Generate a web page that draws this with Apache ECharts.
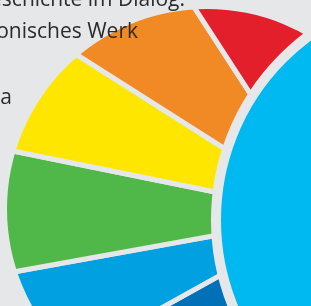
<!DOCTYPE html>
<html>
<head>
<meta charset="UTF-8" />
<script type="text/javascript" src="https://cdn.jsdelivr.net/npm/echarts@6/dist/echarts.min.js"></script>
<title>Anteile</title>
<style>
	html, body { margin: 0; padding: 0; background: #e6e7e9; }
	#main { width: 311px; height: 306px; }
</style>
</head>
<body>
	<div id="main"></div>
<script type="text/javascript">
	// Sektoren im Uhrzeigersinn (unten links beginnend)
	var sectorNames = ['Bereich 6', 'Bereich 5', 'Bereich 4', 'Bereich 3', 'Bereich 2', 'Bereich 1']
	var sectorValues = [20, 18.8, 21.7, 21, 24.6, 28]
	var labelLines = ['Geschichte im Dialog.', 'Diakonisches Werk', 'a']

	var palette = ['#0071b9', '#00a0e1', '#50b848', '#ffe600', '#f18a24', '#e31f2b']
	var bg = '#e6e7e9'

	var myChart = echarts.init(document.getElementById('main'))

	var pieData = []
	for (var i in sectorValues) {
		pieData.push({
			name : sectorNames[i],
			value : sectorValues[i],
			itemStyle : { color : palette[i] }
		})
	}

	// Beschriftungen (links angeschnitten)
	var labelPos = [[185, 0], [138, 32], [12, 98]]
	var texts = []
	for (var j in labelLines) {
		texts.push({
			type : 'text',
			z : 120,
			style : {
				text : labelLines[j],
				x : labelPos[j][0],
				y : labelPos[j][1],
				align : 'right',
				verticalAlign : 'middle',
				fill : '#2b2b2b',
				font : '21px "Open Sans"'
			}
		})
	}

	var option = {
		backgroundColor : bg,
		animation : false,
		series : [ {
			type : 'pie',
			center : [329, 215],
			radius : [0, 340],
			startAngle : 229,
			endAngle : 95,
			clockwise : true,
			silent : true,
			label : { show : false },
			labelLine : { show : false },
			itemStyle : {
				borderColor : bg,
				borderWidth : 5
			},
			data : pieData
		} ],
		graphic : {
			elements : [ {
				// äußerer Rand des Kreises
				type : 'ring',
				z : 100,
				shape : { cx : 207, cy : 209, r0 : 200, r : 900 },
				style : { fill : bg }
			}, {
				type : 'circle',
				z : 110,
				shape : { cx : 445, cy : 220, r : 229 },
				style : { fill : '#00b9f0', stroke : bg, lineWidth : 10 }
			} ].concat(texts)
		}
	}
	myChart.setOption(option)
</script>
</body>
</html>
